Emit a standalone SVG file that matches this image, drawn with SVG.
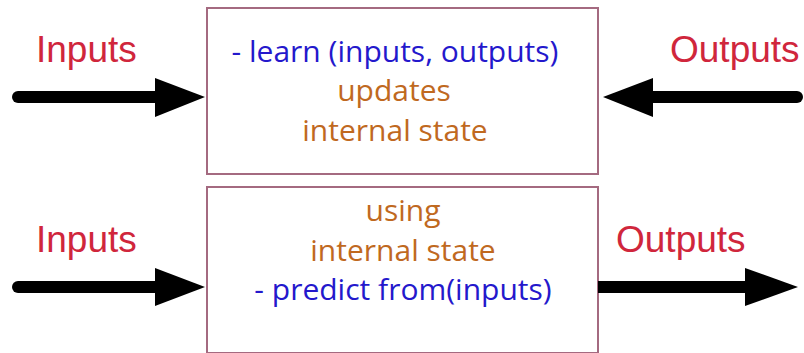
<svg xmlns="http://www.w3.org/2000/svg" width="804" height="353" viewBox="0 0 804 353">
  <style>
    .box { fill: #ffffff; stroke: #a46a80; stroke-width: 2; }
    .lbl { font-family: "Liberation Sans", Arial, sans-serif; font-size: 37px; fill: #d0263c; }
    .txt { font-family: "Open Sans", "Noto Sans", sans-serif; font-size: 30px; text-anchor: middle; }
    .blue { fill: #2418cc; }
    .brown { fill: #c0691f; }
    .shaft { stroke: #000000; stroke-width: 12; fill: none; }
    .head { fill: #000000; }
  </style>
  <rect width="804" height="353" fill="#ffffff"/>

  <!-- training block -->
  <g id="learn-box">
    <rect class="box" x="207" y="8" width="391" height="166"/>
    <text class="txt blue" x="395" y="62">- learn (inputs, outputs)</text>
    <text class="txt brown" x="394" y="101">updates</text>
    <text class="txt brown" x="395" y="141">internal state</text>
  </g>

  <!-- prediction block -->
  <g id="predict-box">
    <rect class="box" x="207" y="187" width="391" height="166"/>
    <text class="txt brown" x="403" y="221">using</text>
    <text class="txt brown" x="403" y="261">internal state</text>
    <text class="txt blue" x="403" y="300">- predict from(inputs)</text>
  </g>

  <!-- side labels -->
  <g id="labels">
    <text class="lbl" x="36" y="62">Inputs</text>
    <text class="lbl" x="670" y="62">Outputs</text>
    <text class="lbl" x="36" y="252">Inputs</text>
    <text class="lbl" x="616" y="252">Outputs</text>
  </g>

  <!-- arrows -->
  <g id="connectors">
    <line class="shaft" x1="18" y1="97" x2="160" y2="97" stroke-linecap="round"/>
    <polygon class="head" points="155,78 205,97 155,117"/>

    <line class="shaft" x1="648" y1="97" x2="797" y2="97" stroke-linecap="round"/>
    <polygon class="head" points="603,97 653,78 653,117"/>

    <line class="shaft" x1="18" y1="287" x2="160" y2="287" stroke-linecap="round"/>
    <polygon class="head" points="155,268 205,287 155,306"/>

    <line class="shaft" x1="598" y1="287" x2="750" y2="287"/>
    <polygon class="head" points="745,268 798,287 745,306"/>
  </g>
</svg>
